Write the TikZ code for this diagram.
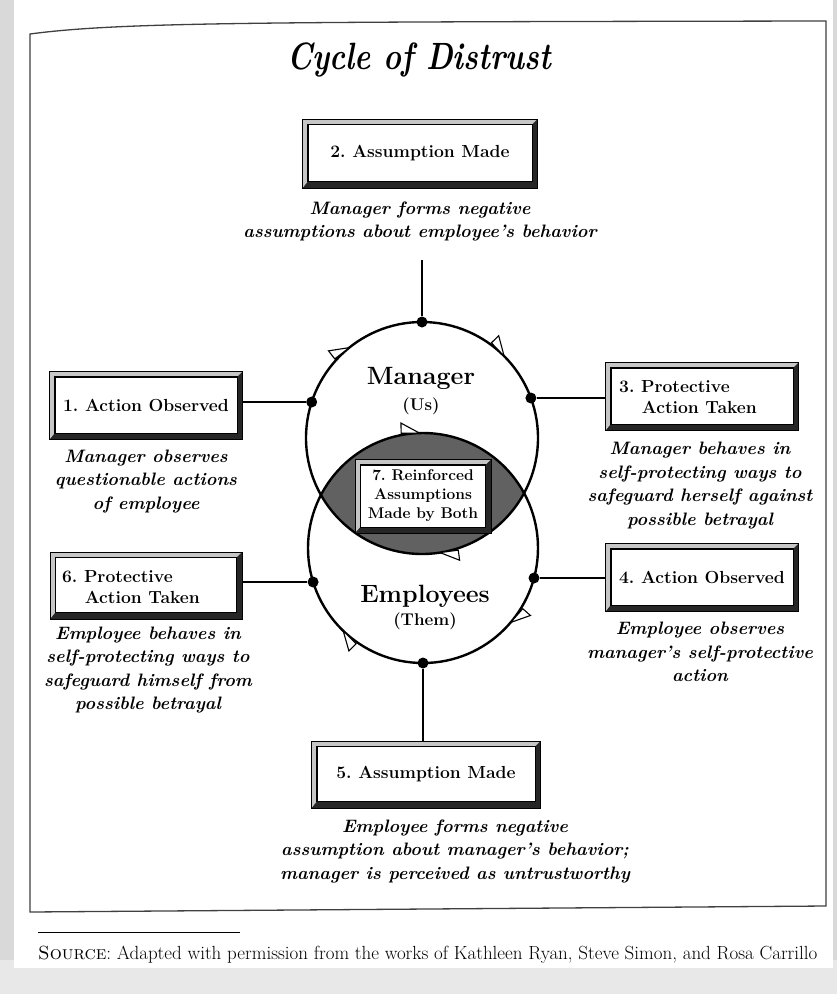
\documentclass[tikz,border=0pt]{standalone}
\usetikzlibrary{arrows.meta,decorations.markings}
\pgfdeclarelayer{page}
\pgfdeclarelayer{bg}
\pgfsetlayers{page,bg,main}
\tikzset{
  boxtext/.style={font=\fontsize{17.5}{21}\selectfont\bfseries, align=center, inner sep=0pt},
  captext/.style={font=\fontsize{18}{23.5}\selectfont\bfseries\itshape, align=center, inner sep=0pt},
  bbox/.style={draw=black, line width=0.8pt, fill=white, inner sep=0pt},
  dot/.style={circle, fill=black, inner sep=0pt, minimum size=11pt},
  ring/.style={line width=2.4pt},
  link/.style={line width=1.8pt},
  hp/.tip={Triangle[harpoon, length=20pt, width=22pt, fill=white, line width=1.1pt]},
}
\newcommand\bevelframe[2][5]{%
  \fill[gray!45] ([shift={(-#1pt,#1pt)}]#2.north west) -- ([shift={(#1pt,#1pt)}]#2.north east) -- (#2.north east) -- (#2.north west) -- (#2.south west) -- ([shift={(-#1pt,-#1pt)}]#2.south west) -- cycle;
  \fill[black!85] ([shift={(#1pt,#1pt)}]#2.north east) -- ([shift={(#1pt,-#1pt-1pt)}]#2.south east) -- ([shift={(-#1pt,-#1pt-1pt)}]#2.south west) -- (#2.south west) -- (#2.south east) -- (#2.north east) -- cycle;
  \draw[line width=0.9pt] (#2.north west) rectangle (#2.south east);
  \draw[line width=0.5pt] ([shift={(-#1pt,#1pt)}]#2.north west) rectangle ([shift={(#1pt,-#1pt-1pt)}]#2.south east);
}
\begin{document}
\frenchspacing
\begin{tikzpicture}[x=1pt,y=-1pt]
\useasboundingbox (0,0) rectangle (837,994);
% page
\begin{pgfonlayer}{page}
\fill[gray!30] (0,0) rectangle (837,994);
\fill[gray!18] (0,960) rectangle (837,994);
\fill[white] (14,0) rectangle (833,968);
\draw[black!75, line width=1.3pt] (30,34) .. controls (120,22) and (260,22) .. (826,21) -- (826,906) -- (30,912) -- cycle;
\end{pgfonlayer}

% title
\node (title) at (419,60) {\fontsize{38}{40}\selectfont\bfseries\itshape\scalebox{0.8}[1]{Cycle of Distrust}};

% circles
\coordinate (c1) at (422,438);
\coordinate (c2) at (423,548);
\begin{scope}
  \clip (c1) circle [radius=116];
  \fill[black!62] (c2) circle [radius=115];
\end{scope}
\draw[ring, postaction={decorate}, decoration={markings,
   mark=at position 0.228 with {\arrow{hp}},
   mark=at position 0.645 with {\arrow{hp}},
   mark=at position 0.878 with {\arrow{hp}}}] (c1) circle [radius=116];
\draw[ring, postaction={decorate}, decoration={markings,
   mark=at position 0.115 with {\arrow{hp}},
   mark=at position 0.375 with {\arrow{hp}},
   mark=at position 0.748 with {\arrow{hp}}}] (c2) circle [radius=115];

% dots
\node[dot] (dT) at (422,322) {};
\node[dot] (dUL) at (311.7,402) {};
\node[dot] (dUR) at (530.9,398) {};
\node[dot] (dLL) at (313.1,582) {};
\node[dot] (dLR) at (534,578) {};
\node[dot] (dB) at (423,663) {};
\coordinate (topend) at (422,260);

% boxes
\node[bbox, minimum width=224pt, minimum height=57pt] (b2) at (420,153) {};
\node[bbox, minimum width=182pt, minimum height=56pt] (b1) at (146,405) {};
\node[bbox, minimum width=182pt, minimum height=56pt] (b3) at (702,396) {};
\node[bbox, minimum width=182pt, minimum height=56pt] (b4) at (702,577) {};
\node[bbox, minimum width=181pt, minimum height=55pt] (b6) at (146,585) {};
\node[bbox, minimum width=218pt, minimum height=55pt] (b5) at (426,774) {};
\node[bbox, minimum width=125pt, minimum height=62pt] (b7) at (423,496) {};
\bevelframe{b2}\bevelframe{b1}\bevelframe{b3}\bevelframe{b4}\bevelframe{b6}\bevelframe{b5}\bevelframe{b7}

% connectors
\begin{pgfonlayer}{bg}
\draw[link] (dT) -- (topend);
\draw[link] (dUL) -- (dUL -| b1.center);
\draw[link] (dUR) -- (dUR -| b3.center);
\draw[link] (dLL) -- (dLL -| b6.center);
\draw[link] (dLR) -- (dLR -| b4.center);
\draw[link] (dB) -- (dB |- b5.center);
\end{pgfonlayer}

% box labels
\node[boxtext] (l2) at (b2.center) {2. Assumption Made};
\node[boxtext] (l1) at (b1.center) {1. Action Observed};
\node[boxtext, align=left] (l3) at (688,397) {3. Protective\\\hspace*{1.3em}Action Taken};
\node[boxtext] (l4) at (b4.center) {4. Action Observed};
\node[boxtext, align=left] (l6) at (131,587) {6. Protective\\\hspace*{1.3em}Action Taken};
\node[boxtext] (l5) at (b5.center) {5. Assumption Made};
\node[boxtext, font=\fontsize{15.5}{19}\selectfont\bfseries] (l7) at (b7.center) {7. Reinforced\\Assumptions\\Made by Both};

% circle labels
\node[font=\fontsize{25}{28}\selectfont\bfseries] (mgr) at (421,378) {Manager};
\node[font=\fontsize{17}{20}\selectfont\bfseries] (us) at (421,406) {(Us)};
\node[font=\fontsize{25}{28}\selectfont\bfseries] (emp) at (425,596) {Employees};
\node[font=\fontsize{17}{20}\selectfont\bfseries] (them) at (425,621) {(Them)};

% captions
\node[captext] (cap2) at (420,221.5) {Manager forms negative\\assumptions about employee's behavior};
\node[captext] (cap1) at (146,481.5) {Manager observes\\questionable actions\\of employee};
\node[captext] (cap3) at (700,485.5) {Manager behaves in\\self-protecting ways to\\safeguard herself against\\possible betrayal};
\node[captext] (cap4) at (700,652) {Employee observes\\manager's self-protective\\action};
\node[captext] (cap6) at (148,670) {Employee behaves in\\self-protecting ways to\\safeguard himself from\\possible betrayal};
\node[captext] (cap5) at (455,851) {Employee forms negative\\assumption about manager's behavior;\\manager is perceived as untrustworthy};

% footer
\draw[line width=0.8pt] (38,932) -- (240,932);
\node[anchor=west, inner sep=0pt, font=\fontsize{19}{22}\selectfont] (src) at (38,955) {\textsc{Source}: Adapted with permission from the works of Kathleen Ryan, Steve Simon, and Rosa Carrillo};
\end{tikzpicture}
\end{document}
